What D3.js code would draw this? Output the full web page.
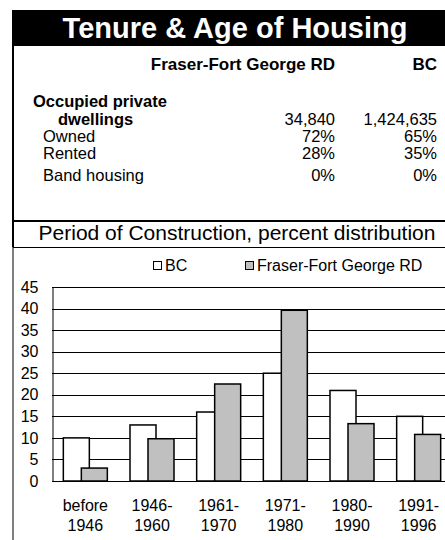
<!DOCTYPE html>
<html>
<head>
<meta charset="utf-8">
<script src="https://cdn.jsdelivr.net/npm/d3@7"></script>
<style>
    body { margin: 0; background: #fff; }
    svg { display: block; font-family: Arial, "Liberation Sans", sans-serif; }
</style>
</head>
<body>
<svg id="chart" width="445" height="540"></svg>
<script>
// table data
let regionName = "Fraser-Fort George RD";
let tableCols = [regionName, "BC"];
let tableRows = ["Owned", "Rented", "Band housing"];
let dwellings = ["34,840", "1,424,635"];
let regionShares = ["72%", "28%", "0%"];
let bcShares = ["65%", "35%", "0%"];

// chart data (percent distribution)
let periods = ["before\n1946", "1946-\n1960", "1961-\n1970", "1971-\n1980", "1980-\n1990", "1991-\n1996"];
let bcValues = [10, 13, 16, 25, 21, 15];
let regionValues = [3, 9.8, 22.5, 39.6, 13.3, 10.8];
let yTicks = [0, 5, 10, 15, 20, 25, 30, 35, 40, 45];

let svg = d3.select("#chart");

drawTable();
drawChart();

function drawTable(){
    svg.append("rect")
        .attr("x", 12).attr("y", 10)
        .attr("width", 433).attr("height", 36)
        .attr("fill", "#000");

    svg.append("text")
        .attr("x", 235).attr("y", 38)
        .attr("text-anchor", "middle")
        .attr("fill", "#fff")
        .attr("font-size", 29)
        .attr("font-weight", "bold")
        .text("Tenure & Age of Housing");

    // borders
    svg.append("line").attr("x1", 13).attr("x2", 13).attr("y1", 10).attr("y2", 247)
        .attr("stroke", "#000").attr("stroke-width", 2);
    svg.append("line").attr("x1", 13).attr("x2", 13).attr("y1", 247).attr("y2", 540)
        .attr("stroke", "#000").attr("stroke-width", 1);
    svg.append("line").attr("x1", 12).attr("x2", 445).attr("y1", 221).attr("y2", 221)
        .attr("stroke", "#000").attr("stroke-width", 2);
    svg.append("line").attr("x1", 13).attr("x2", 445).attr("y1", 247.5).attr("y2", 247.5)
        .attr("stroke", "#000").attr("stroke-width", 1);

    let colX = [335, 437];
    let t = svg.append("g").attr("font-size", 16.5).attr("fill", "#000");

    t.selectAll(".head")
        .data(tableCols)
        .enter().append("text")
        .attr("x", (d, i) => colX[i])
        .attr("y", 70)
        .attr("text-anchor", "end")
        .attr("font-weight", "bold")
        .attr("font-size", 17)
        .text(d => d);

    t.append("text").attr("x", 33).attr("y", 107).attr("font-weight", "bold").text("Occupied private");
    t.append("text").attr("x", 58).attr("y", 125).attr("font-weight", "bold").text("dwellings");
    t.selectAll(".dw")
        .data(dwellings)
        .enter().append("text")
        .attr("x", (d, i) => colX[i])
        .attr("y", 125)
        .attr("text-anchor", "end")
        .text(d => d);

    let rowY = [142, 159, 181];
    tableRows.forEach(function(name, i){
        t.append("text").attr("x", 43).attr("y", rowY[i]).text(name);
        t.append("text").attr("x", colX[0]).attr("y", rowY[i]).attr("text-anchor", "end").text(regionShares[i]);
        t.append("text").attr("x", colX[1]).attr("y", rowY[i]).attr("text-anchor", "end").text(bcShares[i]);
    });

    svg.append("text")
        .attr("x", 237).attr("y", 240)
        .attr("text-anchor", "middle")
        .attr("font-size", 21)
        .text("Period of Construction, percent distribution");
}

function drawChart(){
    let left = 52, right = 452, top = 287, bottom = 481;

    let xScale = d3.scaleBand()
            .domain(periods)
            .range([left, right]);
    let yScale = d3.scaleLinear()
            .domain([0, 45])
            .range([bottom, top]);

    let bw = xScale.bandwidth() * 0.39;
    let shift = xScale.bandwidth() * 0.06;
    let center = d => xScale(d) + xScale.bandwidth() / 2;

    // gridlines
    svg.append("g")
        .selectAll("line")
        .data(yTicks)
        .enter().append("line")
        .attr("x1", left).attr("x2", 445)
        .attr("y1", d => Math.round(yScale(d)) + 0.5)
        .attr("y2", d => Math.round(yScale(d)) + 0.5)
        .attr("stroke", "#000").attr("stroke-width", 1);

    let yAxis = d3.axisLeft(yScale).tickValues(yTicks).tickSize(0).tickPadding(14);
    let ax = svg.append("g")
        .attr("transform", "translate(" + (left + 0.5) + ",0)")
        .call(yAxis);
    ax.select(".domain").attr("stroke", "#000");
    ax.selectAll("text")
        .attr("font-size", 16)
        .attr("font-family", "Arial, 'Liberation Sans', sans-serif")
        .attr("fill", "#000");

    // bars: BC first, region drawn over it
    svg.append("g")
        .selectAll("rect")
        .data(periods)
        .enter().append("rect")
        .attr("x", d => center(d) - bw + shift)
        .attr("y", (d, i) => yScale(bcValues[i]))
        .attr("width", bw)
        .attr("height", (d, i) => yScale(0) - yScale(bcValues[i]))
        .attr("fill", "#fff")
        .attr("stroke", "#000").attr("stroke-width", 1.5);

    svg.append("g")
        .selectAll("rect")
        .data(periods)
        .enter().append("rect")
        .attr("x", d => center(d) - shift)
        .attr("y", (d, i) => yScale(regionValues[i]))
        .attr("width", bw)
        .attr("height", (d, i) => yScale(0) - yScale(regionValues[i]))
        .attr("fill", "#c0c0c0")
        .attr("stroke", "#000").attr("stroke-width", 1.5);

    // category labels on two lines
    let labels = svg.append("g")
        .selectAll("text")
        .data(periods)
        .enter().append("text")
        .attr("x", d => center(d))
        .attr("y", 511)
        .attr("text-anchor", "middle")
        .attr("font-size", 16);
    labels.each(function(d){
        let parts = d.split("\n");
        d3.select(this).selectAll("tspan")
            .data(parts)
            .enter().append("tspan")
            .attr("x", center(d))
            .attr("dy", (p, i) => i == 0 ? 0 : 20)
            .text(p => p);
    });

    // legend
    let legend = [
        {name: "BC", fill: "#fff", x: 153},
        {name: regionName, fill: "#c0c0c0", x: 245}
    ];
    let lg = svg.append("g")
        .selectAll("g")
        .data(legend)
        .enter().append("g")
        .attr("transform", d => "translate(" + d.x + ",261)");
    lg.append("rect")
        .attr("x", 0.5).attr("y", 0.5)
        .attr("width", 8).attr("height", 8)
        .attr("fill", d => d.fill)
        .attr("stroke", "#000");
    lg.append("text")
        .attr("x", 12).attr("y", 10)
        .attr("font-size", 16)
        .text(d => d.name);
}
</script>
</body>
</html>
